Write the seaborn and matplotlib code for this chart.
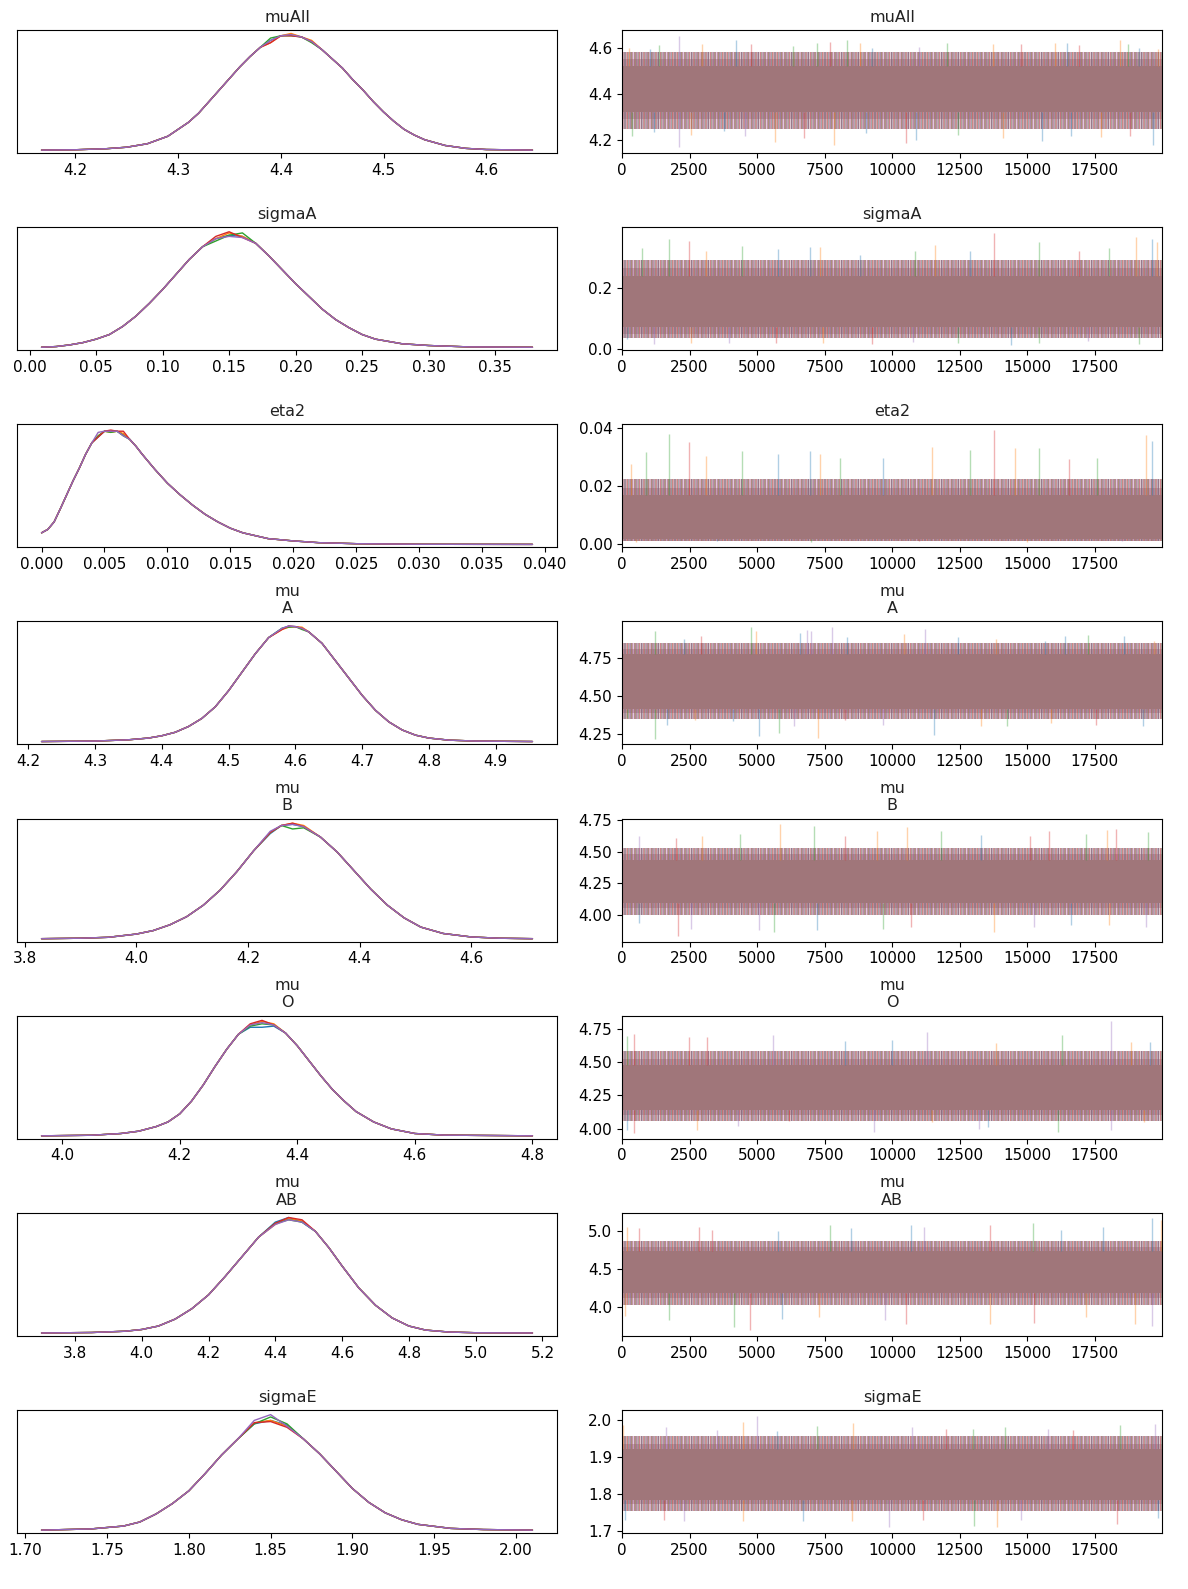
import matplotlib
matplotlib.use("Agg")
import matplotlib.pyplot as plt
import seaborn as sns

# ====================== data ======================
N_DRAWS = 20000
CHAIN_COLORS = sns.color_palette("tab10", 5)   # blue, orange, green, red, purple
TRACE_ALPHA = 0.35
CORE_COLOR = "#a0767a"
TRACE_XTICKS = [0, 2500, 5000, 7500, 10000, 12500, 15000, 17500]
# vertical streak texture used for the ragged edge of the trace band, one per chain
CHAIN_HATCH = ["|||", "||||", "|||||", "|||||||", "|||||||||"]

# --- muAll ---
muall_kde_x = [4.167, 4.20, 4.23, 4.25, 4.27, 4.29, 4.30, 4.31, 4.32, 4.33, 4.34, 4.35,
               4.36, 4.37, 4.38, 4.39, 4.40, 4.41, 4.42, 4.43, 4.44, 4.45, 4.46, 4.47,
               4.48, 4.49, 4.50, 4.51, 4.52, 4.53, 4.54, 4.56, 4.58, 4.60, 4.645]
muall_kde_y = [0, .003, .012, .025, .055, .12, .18, .24, .32, .42, .52, .62,
               .72, .81, .89, .95, .99, 1.0, .98, .94, .87, .79, .71, .61,
               .52, .42, .33, .25, .18, .13, .09, .04, .015, .005, 0]
muall_peak_idx = [15, 17, 19]
muall_peak = [[.95, 1.0, .94], [.93, 1.01, .95], [.97, .99, .93], [.93, .99, .94], [.95, 1.0, .94]]
# (lo, hi) pairs: solid core, dense fringe, sparse fringe
muall_bands = [(4.32, 4.52), (4.29, 4.55), (4.25, 4.58)]
muall_yticks = [4.2, 4.4, 4.6]
muall_spikes = [
    (265, 4.600, 1), (1030, 4.593, 0), (1380, 4.612, 2), (2117, 4.652, 4), (2980, 4.614, 1),
    (4220, 4.635, 0), (4790, 4.617, 3), (6320, 4.607, 2), (7240, 4.618, 2), (7720, 4.625, 3),
    (8315, 4.635, 2), (8830, 4.620, 1), (9250, 4.600, 0), (11000, 4.604, 4), (12040, 4.618, 2),
    (13750, 4.614, 1), (14790, 4.614, 3), (16050, 4.618, 1), (16490, 4.618, 0), (16910, 4.610, 3),
    (18440, 4.632, 1), (18750, 4.617, 2), (19140, 4.600, 0), (19840, 4.593, 1),
    (360, 4.217, 2), (1170, 4.235, 0), (2117, 4.169, 4), (2560, 4.224, 1), (3775, 4.238, 0),
    (4540, 4.217, 4), (5655, 4.193, 1), (6740, 4.210, 3), (7860, 4.178, 1), (9050, 4.230, 0),
    (10500, 4.186, 3), (10890, 4.203, 0), (12450, 4.224, 2), (14120, 4.210, 1), (15545, 4.196, 0),
    (16630, 4.217, 0), (17750, 4.213, 1), (18830, 4.217, 3), (19670, 4.180, 0),
]

# --- sigmaA ---
sigmaa_kde_x = [0.009, 0.02, 0.03, 0.04, 0.05, 0.06, 0.07, 0.08, 0.09, 0.10, 0.11, 0.12,
                0.13, 0.14, 0.15, 0.16, 0.17, 0.18, 0.19, 0.20, 0.21, 0.22, 0.23, 0.24,
                0.25, 0.26, 0.28, 0.30, 0.33, 0.378]
sigmaa_kde_y = [0, .006, .02, .04, .07, .11, .18, .27, .38, .50, .63, .76,
                .87, .94, .98, .97, .90, .79, .67, .55, .44, .33, .24, .17,
                .11, .07, .03, .015, .003, 0]
sigmaa_peak_idx = [13, 14, 15]
sigmaa_peak = [[.94, .97, .96], [.94, .99, .96], [.92, .97, .99], [.96, 1.0, .95], [.94, .96, .95]]
sigmaa_bands = [(0.07, 0.24), (0.05, 0.265), (0.035, 0.29)]
sigmaa_yticks = [0.0, 0.2]
sigmaa_spikes = [
    (750, 0.330, 2), (1755, 0.360, 2), (2480, 0.354, 3), (3120, 0.320, 1), (4445, 0.338, 2),
    (5770, 0.328, 0), (6980, 0.334, 0), (7330, 0.334, 1), (8830, 0.309, 0), (10850, 0.322, 2),
    (11590, 0.341, 1), (12870, 0.320, 0), (13780, 0.381, 3), (15450, 0.349, 2), (16910, 0.320, 3),
    (18025, 0.330, 2), (19030, 0.368, 1), (19630, 0.360, 0), (19810, 0.352, 1),
    (195, 0.031, 0), (1170, 0.016, 4), (2560, 0.020, 1), (3955, 0.018, 4), (5700, 0.018, 3),
    (7440, 0.019, 1), (9250, 0.017, 3), (10780, 0.022, 4), (12450, 0.020, 2), (14400, 0.014, 0),
    (15450, 0.020, 2), (17260, 0.024, 4), (19140, 0.016, 2),
]

# --- eta2 ---
eta2_kde_x = [0.0, 0.0005, 0.001, 0.0015, 0.002, 0.0025, 0.003, 0.0035, 0.004, 0.0045,
              0.005, 0.0055, 0.006, 0.0065, 0.007, 0.0075, 0.008, 0.009, 0.010, 0.011,
              0.012, 0.013, 0.014, 0.015, 0.016, 0.018, 0.020, 0.022, 0.025, 0.030, 0.039]
eta2_kde_y = [.10, .13, .195, .31, .43, .55, .66, .78, .88, .95,
              .98, .99, .98, .95, .91, .85, .78, .65, .53, .43,
              .34, .26, .195, .14, .10, .05, .03, .015, .006, .001, 0]
eta2_peak_idx = [9, 11, 13]
eta2_peak = [[.93, .98, .95], [.94, .97, .96], [.94, .97, .94], [.93, .99, .98], [.97, .98, .94]]
eta2_bands = [(0.0016, 0.017), (0.0012, 0.0195), (0.0009, 0.0225)]
eta2_yticks = [0.00, 0.02, 0.04]
eta2_spikes = [
    (335, 0.0277, 1), (890, 0.0317, 2), (1730, 0.0380, 2), (2465, 0.0352, 3), (3120, 0.0303, 1),
    (4445, 0.0320, 2), (5770, 0.0310, 0), (6950, 0.0320, 0), (7330, 0.0310, 1), (8065, 0.0298, 2),
    (9670, 0.0298, 0), (11480, 0.0336, 1), (12870, 0.0326, 2), (13780, 0.0394, 3), (14540, 0.0332, 1),
    (15450, 0.0332, 2), (16560, 0.0295, 3), (17610, 0.0298, 2), (19420, 0.0375, 1), (19630, 0.0355, 0),
    (500, 0.0008, 1), (3500, 0.0009, 0), (7000, 0.0008, 2), (11000, 0.0009, 3), (15000, 0.0008, 1),
    (18500, 0.0009, 4),
]

# --- mu A ---
mua_kde_x = [4.22, 4.30, 4.35, 4.38, 4.40, 4.42, 4.44, 4.46, 4.48, 4.50, 4.52, 4.54, 4.56,
             4.58, 4.59, 4.60, 4.61, 4.62, 4.64, 4.66, 4.68, 4.70, 4.72, 4.74, 4.76, 4.78,
             4.80, 4.83, 4.87, 4.955]
mua_kde_y = [0, .004, .015, .03, .05, .08, .13, .20, .30, .44, .60, .76, .90,
             .98, 1.0, .995, .98, .95, .85, .70, .55, .40, .27, .17, .10, .055,
             .03, .012, .004, 0]
mua_peak_idx = [13, 14, 16]
mua_peak = [[.98, 1.0, .98], [.97, .99, .99], [.98, .99, .97], [.97, 1.0, .98], [.98, 1.0, .98]]
mua_bands = [(4.42, 4.78), (4.39, 4.81), (4.35, 4.85)]
mua_yticks = [4.25, 4.50, 4.75]
mua_spikes = [
    (1210, 4.930, 2), (2285, 4.877, 0), (2910, 4.896, 3), (4765, 4.952, 2), (4960, 4.930, 1),
    (6575, 4.913, 0), (6855, 4.935, 4), (6990, 4.930, 4), (7760, 4.955, 4), (8345, 4.887, 0),
    (10430, 4.910, 1), (11230, 4.940, 4), (12450, 4.887, 0), (13850, 4.877, 1), (15660, 4.866, 0),
    (16420, 4.898, 0), (17260, 4.903, 2), (18580, 4.894, 0), (19700, 4.866, 1),
    (195, 4.357, 2), (1210, 4.221, 2), (1660, 4.314, 0), (2700, 4.342, 1), (4095, 4.335, 0),
    (5070, 4.238, 0), (5810, 4.260, 2), (6370, 4.303, 4), (7270, 4.227, 1), (8275, 4.346, 3),
    (9670, 4.314, 4), (11550, 4.249, 0), (13290, 4.303, 1), (14265, 4.303, 2), (15870, 4.325, 1),
    (17550, 4.314, 3), (19280, 4.303, 0),
]

# --- mu B ---
mub_kde_x = [3.83, 3.90, 3.95, 4.00, 4.03, 4.06, 4.09, 4.12, 4.15, 4.18, 4.21, 4.24, 4.26,
             4.28, 4.30, 4.33, 4.36, 4.39, 4.42, 4.45, 4.48, 4.51, 4.55, 4.60, 4.65, 4.71]
mub_kde_y = [0, .004, .012, .04, .07, .12, .19, .29, .42, .58, .76, .92, .98,
             1.0, .97, .88, .75, .59, .43, .29, .18, .10, .045, .015, .004, 0]
mub_peak_idx = [11, 13, 14]
mub_peak = [[.91, .99, .97], [.92, 1.0, .98], [.92, .95, .96], [.92, 1.0, .97], [.93, .99, .97]]
mub_bands = [(4.09, 4.43), (4.05, 4.48), (4.00, 4.53)]
mub_yticks = [4.00, 4.25, 4.50, 4.75]
mub_spikes = [
    (615, 4.628, 4), (2005, 4.607, 3), (2980, 4.628, 1), (4375, 4.640, 2), (5865, 4.718, 1),
    (7105, 4.705, 2), (8275, 4.628, 3), (9460, 4.666, 1), (10570, 4.692, 1), (11830, 4.666, 2),
    (13290, 4.633, 0), (15100, 4.628, 3), (15800, 4.666, 3), (17190, 4.640, 2), (17960, 4.674, 1),
    (18300, 4.680, 3), (19490, 4.653, 2),
    (615, 3.930, 0), (2075, 3.831, 3), (2560, 3.890, 4), (5070, 3.877, 4), (5630, 3.865, 2),
    (7230, 3.877, 0), (9670, 3.890, 2), (10710, 3.903, 3), (13780, 3.860, 1), (15240, 3.903, 4),
    (16630, 3.916, 0), (18025, 3.916, 1), (19390, 3.903, 4),
]

# --- mu O ---
muo_kde_x = [3.965, 4.05, 4.10, 4.13, 4.16, 4.18, 4.20, 4.22, 4.24, 4.26, 4.28, 4.30, 4.32,
             4.34, 4.36, 4.38, 4.40, 4.42, 4.44, 4.46, 4.48, 4.50, 4.53, 4.56, 4.60, 4.65, 4.80]
muo_kde_y = [0, .005, .02, .04, .08, .12, .19, .30, .44, .60, .75, .88, .96,
             1.0, .97, .89, .78, .65, .52, .40, .30, .21, .12, .06, .02, .006, 0]
muo_peak_idx = [12, 13, 14]
muo_peak = [[.94, .94, .95], [.96, .99, .97], [.95, .97, .96], [.97, 1.0, .96], [.96, .98, .96]]
muo_bands = [(4.14, 4.48), (4.10, 4.52), (4.06, 4.58)]
muo_yticks = [4.00, 4.25, 4.50, 4.75]
muo_spikes = [
    (170, 4.695, 2), (430, 4.707, 3), (2490, 4.690, 3), (3160, 4.688, 3), (5600, 4.700, 4),
    (8275, 4.658, 0), (10000, 4.666, 0), (11310, 4.727, 4), (13850, 4.646, 1), (16300, 4.700, 2),
    (18095, 4.805, 4), (18860, 4.650, 1), (19560, 4.650, 0),
    (195, 3.986, 0), (445, 3.966, 3), (2770, 3.986, 1), (4300, 4.023, 4), (6180, 4.060, 3),
    (9320, 3.974, 4), (11480, 4.047, 1), (13220, 3.998, 4), (13570, 4.010, 0), (16160, 3.974, 2),
    (18110, 3.990, 4), (19350, 4.047, 1),
]

# --- mu AB ---
muab_kde_x = [3.70, 3.85, 3.95, 4.00, 4.05, 4.10, 4.15, 4.20, 4.25, 4.30, 4.35, 4.40, 4.44,
              4.48, 4.52, 4.56, 4.60, 4.65, 4.70, 4.75, 4.80, 4.85, 4.92, 5.00, 5.17]
muab_kde_y = [0, .004, .015, .03, .06, .12, .21, .33, .49, .66, .83, .95, 1.0,
              .97, .88, .74, .58, .39, .24, .13, .06, .025, .008, .002, 0]
muab_peak_idx = [11, 12, 13]
muab_peak = [[.96, 1.0, .96], [.94, .99, .97], [.95, .98, .96], [.95, 1.0, .98], [.94, .98, .96]]
muab_bands = [(4.19, 4.74), (4.12, 4.80), (4.03, 4.88)]
muab_yticks = [4.0, 4.5, 5.0]
muab_spikes = [
    (195, 5.06, 1), (615, 5.04, 3), (2840, 5.06, 3), (3330, 5.02, 3), (5770, 5.00, 0),
    (7690, 5.08, 2), (8485, 5.04, 0), (10710, 5.08, 0), (11200, 5.06, 4), (13640, 5.08, 3),
    (15210, 5.11, 2), (16240, 5.02, 0), (17820, 5.06, 0), (19630, 5.17, 0), (19950, 5.15, 1),
    (100, 3.89, 1), (1730, 3.84, 2), (4165, 3.74, 2), (4750, 3.70, 3), (5910, 3.85, 0),
    (7300, 3.87, 1), (9740, 3.83, 4), (10500, 3.785, 3), (13640, 3.785, 1), (15240, 3.79, 3),
    (17190, 3.87, 1), (19000, 3.785, 1), (19630, 3.76, 4),
]

# --- sigmaE ---
sigmae_kde_x = [1.71, 1.74, 1.76, 1.77, 1.78, 1.79, 1.80, 1.81, 1.82, 1.83, 1.84, 1.85,
                1.86, 1.87, 1.88, 1.89, 1.90, 1.91, 1.92, 1.93, 1.94, 1.96, 1.98, 2.01]
sigmae_kde_y = [0, .01, .035, .07, .14, .23, .34, .49, .65, .79, .91, .96,
                .90, .79, .66, .51, .36, .24, .15, .09, .05, .015, .005, 0]
sigmae_peak_idx = [10, 11, 12]
sigmae_peak = [[.92, .95, .91], [.93, .95, .90], [.92, .98, .92], [.93, .94, .89], [.95, 1.0, .90]]
sigmae_bands = [(1.785, 1.922), (1.772, 1.935), (1.755, 1.955)]
sigmae_yticks = [1.7, 1.8, 1.9, 2.0]
sigmae_spikes = [
    (55, 1.985, 1), (1615, 1.980, 4), (3500, 1.972, 4), (4485, 1.994, 1), (5000, 2.011, 4),
    (5725, 1.969, 0), (7215, 1.982, 2), (8555, 1.990, 1), (10755, 1.979, 4), (12010, 1.976, 3),
    (13010, 1.976, 2), (14190, 1.980, 2), (15770, 1.976, 4), (16700, 1.972, 3), (18440, 1.985, 2),
    (19740, 1.988, 4),
    (125, 1.731, 0), (1560, 1.731, 3), (2285, 1.726, 4), (4485, 1.726, 1), (6715, 1.726, 0),
    (8525, 1.726, 1), (9880, 1.710, 4), (11130, 1.731, 3), (13040, 1.713, 2), (13875, 1.710, 1),
    (14795, 1.731, 4), (18330, 1.719, 3), (19840, 1.735, 0),
]

PANELS = [
    ("muAll", muall_kde_x, muall_kde_y, muall_peak_idx, muall_peak, muall_bands, muall_spikes, muall_yticks),
    ("sigmaA", sigmaa_kde_x, sigmaa_kde_y, sigmaa_peak_idx, sigmaa_peak, sigmaa_bands, sigmaa_spikes, sigmaa_yticks),
    ("eta2", eta2_kde_x, eta2_kde_y, eta2_peak_idx, eta2_peak, eta2_bands, eta2_spikes, eta2_yticks),
    ("mu\nA", mua_kde_x, mua_kde_y, mua_peak_idx, mua_peak, mua_bands, mua_spikes, mua_yticks),
    ("mu\nB", mub_kde_x, mub_kde_y, mub_peak_idx, mub_peak, mub_bands, mub_spikes, mub_yticks),
    ("mu\nO", muo_kde_x, muo_kde_y, muo_peak_idx, muo_peak, muo_bands, muo_spikes, muo_yticks),
    ("mu\nAB", muab_kde_x, muab_kde_y, muab_peak_idx, muab_peak, muab_bands, muab_spikes, muab_yticks),
    ("sigmaE", sigmae_kde_x, sigmae_kde_y, sigmae_peak_idx, sigmae_peak, sigmae_bands, sigmae_spikes, sigmae_yticks),
]

# ====================== style ======================
sns.set_theme(style="ticks", rc={
    "axes.spines.top": True,
    "axes.spines.right": True,
    "axes.edgecolor": "black",
    "axes.linewidth": 0.8,
    "xtick.major.size": 3.5,
    "ytick.major.size": 3.5,
    "xtick.major.width": 0.8,
    "ytick.major.width": 0.8,
    "xtick.color": "black",
    "ytick.color": "black",
    "xtick.labelsize": 11,
    "ytick.labelsize": 11,
    "axes.titlesize": 11.5,
    "text.color": "#222222",
    "hatch.linewidth": 1.0,
})
plt.rcParams["font.family"] = ["DejaVu Sans"]


def draw_kde(ax, x, y, peak_idx, peak):
    for c in range(5):
        yc = list(y)
        for i, v in zip(peak_idx, peak[c]):
            yc[i] = v
        sns.lineplot(x=x, y=yc, ax=ax, color=CHAIN_COLORS[c], lw=1.0,
                     sort=False, estimator=None)
    ax.set_yticks([])
    ax.set_ylim(-0.025, 1.04)
    ax.set_xlabel("")
    ax.set_ylabel("")


def _streaks(ax, span, lo, hi, alpha):
    # light mauve base plus per-chain vertical streaks
    ax.fill_between(span, lo, hi, color=CORE_COLOR, alpha=alpha, lw=0)
    for c in range(5):
        ax.fill_between(span, lo, hi, facecolor="none", edgecolor=CHAIN_COLORS[c],
                        hatch=CHAIN_HATCH[c], alpha=TRACE_ALPHA, lw=0)


def draw_trace(ax, bands, spikes, yticks):
    span = [0, N_DRAWS - 1]
    core, dense, sparse = bands
    # sparse outer fringe, dense fringe, spikes, then the solid core
    _streaks(ax, span, sparse[0], dense[0], 0.12)
    _streaks(ax, span, dense[1], sparse[1], 0.12)
    _streaks(ax, span, dense[0], core[0], 0.55)
    _streaks(ax, span, core[1], dense[1], 0.55)
    for d, v, c in spikes:
        base = core[1] if v > core[1] else core[0]
        ax.vlines(d, base, v, color=CHAIN_COLORS[c], alpha=TRACE_ALPHA, lw=1.0)
    ax.fill_between(span, core[0], core[1], color=CORE_COLOR, lw=0)
    ax.set_xlim(0, N_DRAWS - 1)
    ax.set_xticks(TRACE_XTICKS)
    ax.set_yticks(yticks)


fig = plt.figure(figsize=(11.88, 15.89), dpi=100)
gs = fig.add_gridspec(8, 2, left=17 / 1188, right=1162 / 1188,
                      top=1 - 30 / 1589, bottom=1 - 1533 / 1589,
                      wspace=65 / 540, hspace=0.603)

for row, (name, kx, ky, pidx, pk, bands, spikes, yticks) in enumerate(PANELS):
    ax_kde = fig.add_subplot(gs[row, 0])
    draw_kde(ax_kde, kx, ky, pidx, pk)
    ax_kde.set_title(name)

    ax_tr = fig.add_subplot(gs[row, 1])
    draw_trace(ax_tr, bands, spikes, yticks)
    ax_tr.set_title(name)

fig.savefig("out.png", dpi=100, facecolor="white")
plt.close(fig)
